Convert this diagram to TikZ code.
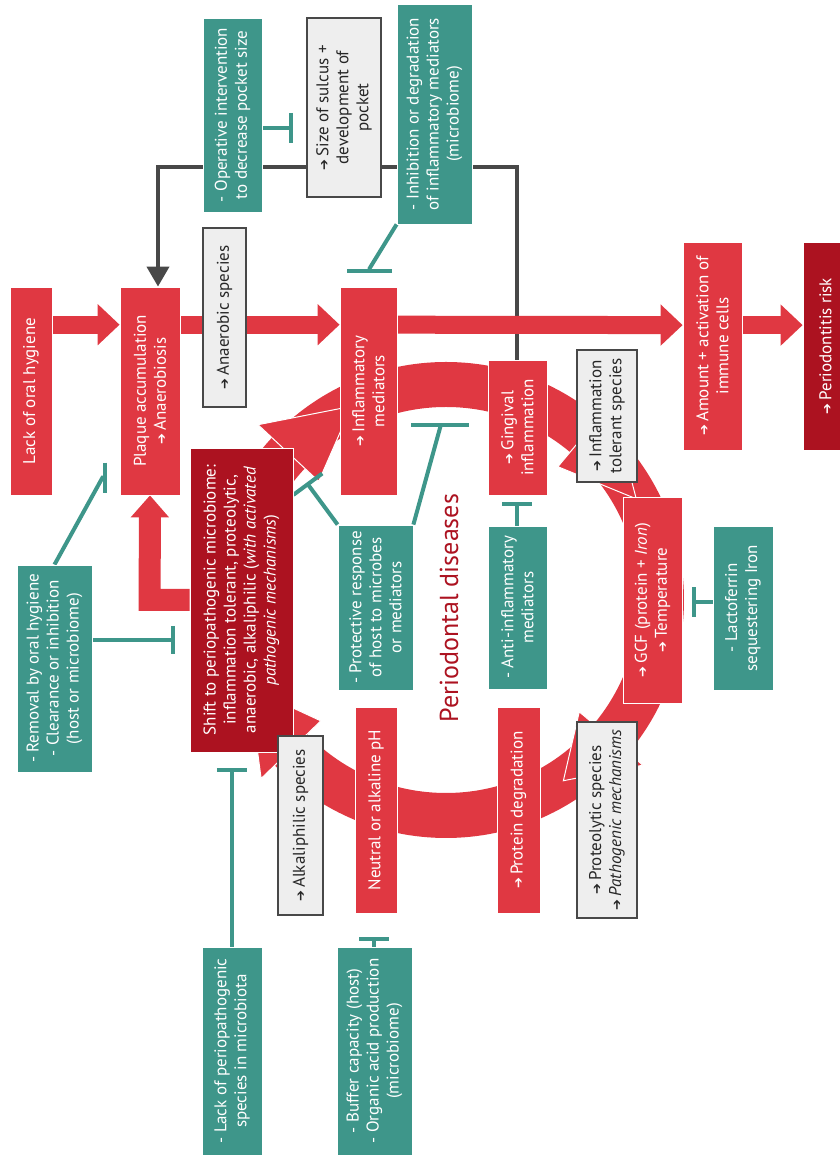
\documentclass[tikz,border=0pt]{standalone}
\usepackage{fontspec}
\setmainfont{PT Sans}
\newfontfamily\arrowfont{DejaVu Sans}
\usetikzlibrary{arrows.meta,calc}
\definecolor{pdred}{RGB}{224,56,66}
\definecolor{pddark}{RGB}{172,18,32}
\definecolor{pdteal}{RGB}{62,150,138}
\definecolor{pdgray}{RGB}{72,72,72}
\definecolor{pdlight}{RGB}{238,238,238}
\newcommand{\incr}{{\arrowfont\fontsize{13}{13}\selectfont ➔}\,}
\newcommand{\ringhead}[2]{\filldraw[fill=pdred, draw=white, line width=1pt] (#1:174) -- (#2:215.5) -- (#1:257) -- cycle;}
\pgfdeclarelayer{back}
\pgfsetlayers{back,main}
\tikzset{
  basebox/.style={draw=white, line width=0.8pt, text=white, align=center, inner sep=1pt, font=\fontsize{17}{20}\selectfont},
  redbox/.style={basebox, fill=pdred},
  darkbox/.style={basebox, fill=pddark},
  tealbox/.style={basebox, fill=pdteal},
  greybox/.style={basebox, fill=pdlight, draw=pdgray, line width=1.3pt, text=black!85},
  flowarrow/.style={pdred, line width=18pt, -{Triangle[length=22pt,width=40pt]}},
  pocketline/.style={pdgray, line width=4pt, -{Triangle[length=20pt,width=22pt]}},
  inhibit/.style={pdteal, line width=4pt, -{Bar[width=#1]}},
  inhibit/.default=30pt
}
\begin{document}
\begin{tikzpicture}[x=1pt, y=1pt, rotate=90, transform shape]
\useasboundingbox (0,0) rectangle (1156,840);
% main chain
\node[redbox, minimum width=208pt, minimum height=42pt] (lack) at (765,809) {Lack of oral hygiene};
\node[redbox, minimum width=208pt, minimum height=60pt] (plaque) at (765,690) {Plaque accumulation\\\incr Anaerobiosis};
\node[greybox, minimum width=179pt, minimum height=43pt] (anaer) at (838.5,615.5) {\incr Anaerobic species};
\node[redbox, minimum width=208pt, minimum height=57pt] (infl) at (765,471.5) {\incr Inflammatory\\mediators};
\node[redbox, minimum width=208pt, minimum height=59pt] (immune) at (810,127.5) {\incr Amount + activation of\\immune cells};
\node[darkbox, minimum width=208pt, minimum height=45pt] (risk) at (810,14.5) {\incr Periodontitis risk};
% pocket
\node[tealbox, minimum width=194pt, minimum height=59pt] (oper) at (1041,607.5) {- Operative intervention\\to decrease pocket size};
\node[greybox, minimum width=179pt, minimum height=74pt] (sulcus) at (1048.5,496) {\incr Size of sulcus +\\development of\\pocket};
\node[tealbox, minimum width=220pt, minimum height=75pt] (inhib) at (1042,405.5) {- Inhibition or degradation\\of inflammatory mediators\\(microbiome)};
% circle
\node[darkbox, minimum width=304pt, minimum height=103pt] (shift) at (556,598.5) {Shift to periopathogenic microbiome:\\inflammation tolerant, proteolytic,\\anaerobic, alkaliphilic (\textit{with activated}\\\textit{pathogenic mechanisms})};
\node[redbox, minimum width=135pt, minimum height=59pt] (ging) at (728.5,322.5) {\incr Gingival\\inflammation};
\node[greybox, minimum width=132pt, minimum height=60pt] (toler) at (740,233) {\incr Inflammation\\tolerant species};
\node[redbox, minimum width=206pt, minimum height=59pt] (gcf) at (556,187.5) {\incr GCF (protein + \textit{Iron})\\\incr Temperature};
\node[greybox, minimum width=196pt, minimum height=60pt] (proteo) at (336,233) {\incr Proteolytic species\\\incr\textit{Pathogenic mechanisms}};
\node[redbox, minimum width=206pt, minimum height=43pt] (protein) at (346,321.5) {\incr Protein degradation};
\node[redbox, minimum width=206pt, minimum height=42pt] (neutral) at (346,464) {Neutral or alkaline pH};
\node[greybox, minimum width=179pt, minimum height=45pt] (alkali) at (330.5,539.5) {\incr Alkaliphilic species};
\node[text=pddark, font=\fontsize{26}{30}\selectfont] (title) at (548,391) {Periodontal diseases};
% counteractions
\node[tealbox, minimum width=207pt, minimum height=75pt] (removal) at (487.5,785.5) {- Removal by oral hygiene\\- Clearance or inhibition\\(host or microbiome)};
\node[tealbox, minimum width=165pt, minimum height=75pt] (protect) at (548.5,464.5) {- Protective response\\of host to microbes\\or mediators};
\node[tealbox, minimum width=163pt, minimum height=59pt] (anti) at (548.5,322.5) {- Anti-inflammatory\\mediators};
\node[tealbox, minimum width=164pt, minimum height=60pt] (lacto) at (548,97) {- Lactoferrin\\sequestering Iron};
\node[tealbox, minimum width=208pt, minimum height=60pt] (lackperio) at (105,608) {- Lack of periopathogenic\\species in microbiota};
\node[tealbox, minimum width=208pt, minimum height=75pt] (buffer) at (105,465.5) {- Buffer capacity (host)\\- Organic acid production\\(microbiome)};
\begin{pgfonlayer}{back}
  % ring
  \begin{scope}[shift={(556,394)}]
    \draw[pdred, line width=45pt] (0,0) circle[radius=215.5];
    \ringhead{47}{26}
    \ringhead{-40}{-62}
    \ringhead{-130}{-147}
    \ringhead{134}{114}
  \end{scope}
  % pocket feedback
  \draw[pocketline] (ging.east) -- ++(193,0) -- ++(0,359.5) -- ($(plaque.east)+(0,-8)$);
  % red arrows
  \draw[flowarrow] ($(lack.south)!0.635!(lack.south east)$) -- ($(plaque.north)!0.635!(plaque.north east)$);
  \draw[flowarrow] ($(plaque.south)!0.635!(plaque.south east)$) -- ($(infl.north)!0.635!(infl.north east)$);
  \draw[flowarrow] ($(infl.south)!0.635!(infl.south east)$) -- ($(immune.north)!0.2!(immune.north east)$);
  \draw[flowarrow] ($(immune.south)!0.2!(immune.south east)$) -- ($(risk.north)!0.2!(risk.north east)$);
  \draw[flowarrow, line width=22pt, -{Triangle[length=22pt,width=37pt]}] (shift.north) -- ++(0,40) -- (plaque.west);
  % inhibitions
  \draw[inhibit] ($(oper.south)+(-13,0)$) -- ++(0,-31);
  \draw[inhibit=45pt] (inhib.north west) -- ++(-44,27) -- ++(-5,0);
  \draw[inhibit] (removal.east) -- ++(87,-48) -- ++(0,-5);
  \draw[inhibit=28pt] ($(removal.south)+(28.5,0)$) -- ++(0,-83);
  \draw[inhibit=36pt] (protect.north east) -- ++(42,31);
  \draw[inhibit=58pt] (protect.south east) -- ++(98,-27) -- ++(4,0);
  \draw[inhibit] (anti.east) -- ++(24,0);
  \draw[inhibit] ($(lacto.north)+(6,0)$) -- ++(0,21);
  \draw[inhibit] (lackperio.east) -- ++(179,0);
  \draw[inhibit] (buffer.east) -- ++(10,0);
\end{pgfonlayer}
\end{tikzpicture}
\end{document}
